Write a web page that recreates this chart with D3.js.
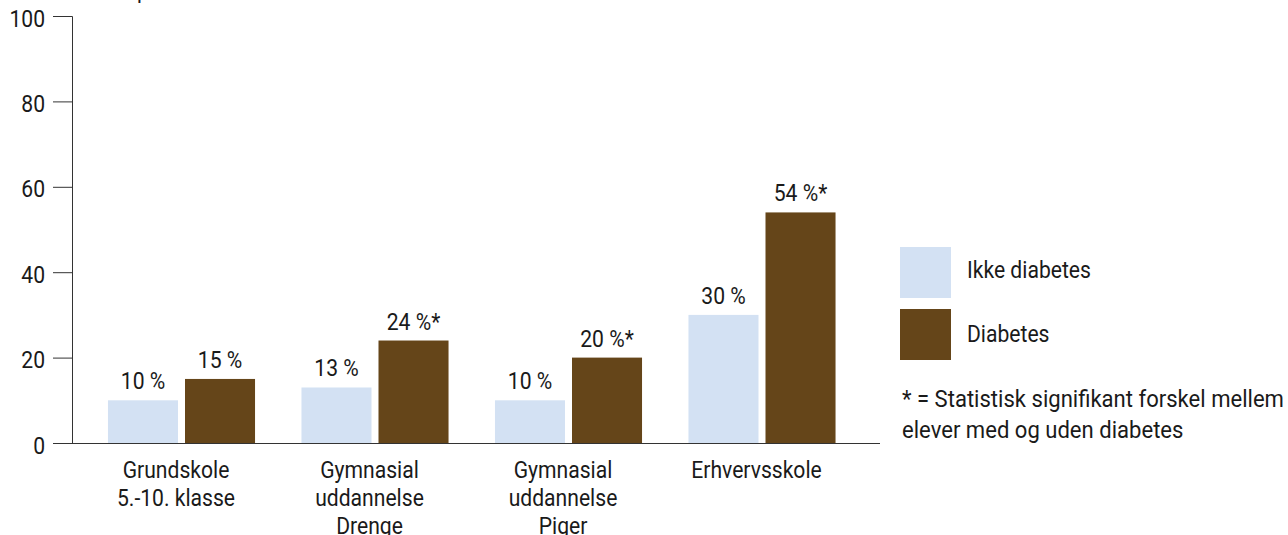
<!DOCTYPE html>
<html>
<head>
<meta charset="utf-8">
<script src="https://cdn.jsdelivr.net/npm/d3@7"></script>
<style>
  html, body { margin: 0; padding: 0; background: #fff; }
  svg { display: block; font-family: Roboto, "Noto Sans", sans-serif; }
</style>
</head>
<body>
<svg id="chart" width="1288" height="535"></svg>
<script>
// Education groups (multi-line labels) and the two series
const categories = ["Grundskole|5.-10. klasse", "Gymnasial|uddannelse|Drenge", "Gymnasial|uddannelse|Piger", "Erhvervsskole"];
const seriesNames = ["Ikke diabetes", "Diabetes"];
const ikkeDiabetes = [10, 13, 10, 30];
const diabetes = [15, 24, 20, 54];
const significant = [false, true, true, true];
const yTicks = [0, 20, 40, 60, 80, 100];
const footnote = ["* = Statistisk signifikant forskel mellem", "elever med og uden diabetes"];
const colors = ["#d3e1f3", "#654519"];

const svg = d3.select("#chart");
const textColor = "#1a1a1a";
const fontSize = 24;
const squeeze = 0.88; // narrow the glyphs horizontally for a condensed look

// Draw a horizontally condensed text anchored at (x, y)
function label(parent, x, y, txt, anchor = "start", sx = squeeze) {
  return parent.append("g")
    .attr("transform", `translate(${x},${y}) scale(${sx},1)`)
    .append("text")
    .attr("text-anchor", anchor)
    .attr("fill", textColor)
    .style("font-size", fontSize + "px")
    .text(txt);
}

const y = d3.scaleLinear().domain([0, 100]).range([443, 16]);
const x0 = d3.scaleBand().domain(categories).range([84.75, 858.75]).paddingInner(0.24).paddingOuter(0.12);
const x1 = d3.scaleBand().domain(seriesNames).range([0, x0.bandwidth()]).paddingInner(0.0909);

const rows = categories.map((c, i) => ({
  cat: c,
  vals: [
    { s: seriesNames[0], v: ikkeDiabetes[i], star: false },
    { s: seriesNames[1], v: diabetes[i], star: significant[i] }
  ]
}));

// Y axis
const yAxis = d3.axisLeft(y).tickValues(yTicks).tickSize(19).tickPadding(8);
const gy = svg.append("g").attr("transform", "translate(72,0)").call(yAxis);
gy.select(".domain").attr("d", "M-19,16.5H0.5V443").attr("stroke", "#333").attr("fill", "none");
gy.selectAll(".tick line").attr("stroke", "#333");
gy.selectAll(".tick text")
  .attr("fill", textColor)
  .attr("x", -27 / squeeze)
  .attr("dy", "0.42em")
  .attr("transform", `scale(${squeeze},1)`)
  .style("font-size", fontSize + "px")
  .style("font-family", "Roboto, 'Noto Sans', sans-serif");

// Y axis title (sits above the plot)
label(svg, 137, -2, "procent");

// Bars
const groups = svg.append("g").selectAll("g").data(rows).join("g")
  .attr("transform", d => `translate(${x0(d.cat)},0)`);

groups.selectAll("rect").data(d => d.vals).join("rect")
  .attr("x", d => x1(d.s))
  .attr("y", d => y(d.v))
  .attr("width", x1.bandwidth())
  .attr("height", d => y(0) - y(d.v))
  .attr("fill", (d, i) => colors[i]);

// Value labels above bars
groups.each(function (row) {
  const g = d3.select(this);
  row.vals.forEach(d => {
    label(g, x1(d.s) + x1.bandwidth() / 2, y(d.v) - 11, `${d.v} %` + (d.star ? "*" : ""), "middle");
  });
});

// X baseline
const xAxis = d3.axisBottom(x0).tickSize(0).tickFormat("");
const gx = svg.append("g").attr("transform", "translate(0,443.5)").call(xAxis);
gx.select(".domain").attr("d", "M53,0H880").attr("stroke", "#333");

// Category labels, one line per segment
const catG = svg.append("g");
categories.forEach(c => {
  c.split("|").forEach((line, i) => {
    label(catG, x0(c) + x0.bandwidth() / 2 - 5.5, 478 + i * 28, line, "middle");
  });
});

// Legend
const legend = svg.append("g").attr("transform", "translate(900,247)");
seriesNames.forEach((s, i) => {
  legend.append("rect").attr("y", i * 62).attr("width", 51).attr("height", 51).attr("fill", colors[i]);
  label(legend, 67, i * 62 + 31 + i * 1.5, s);
});

// Footnote on significance
const note = svg.append("g");
footnote.forEach((line, i) => label(note, 902, 407 + i * 31, line, "start", 0.92));
</script>
</body>
</html>
